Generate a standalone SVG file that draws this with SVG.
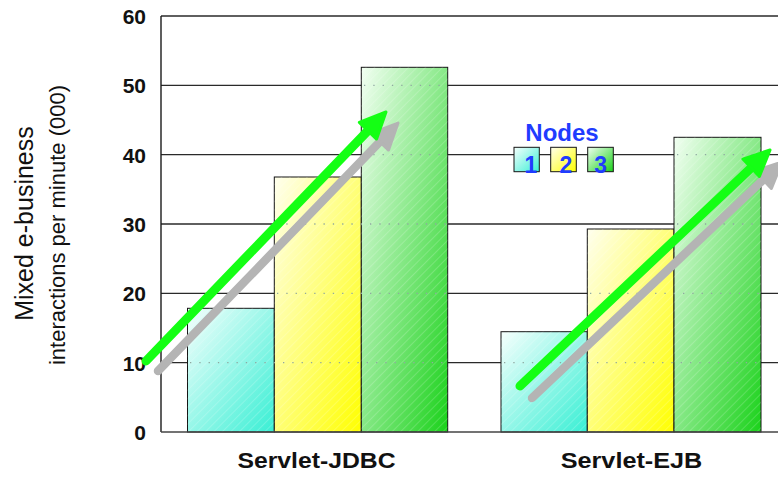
<svg xmlns="http://www.w3.org/2000/svg" width="778" height="478" viewBox="0 0 778 478">
  <style>
    .grid { stroke: #2a2a2a; stroke-width: 1.3; fill: none; }
    .axis { stroke: #1a1a1a; stroke-width: 1.4; fill: none; }
    .dots { stroke: #8fa8a0; stroke-width: 1.3; stroke-dasharray: 1.3 8; fill: none; }
    .bar { stroke: #151515; stroke-width: 1; }
    .tick { font-family: "Liberation Sans", Arial, sans-serif; font-weight: bold; font-size: 21px; fill: #111; text-anchor: end; }
    .cat { font-family: "Liberation Sans", Arial, sans-serif; font-weight: bold; font-size: 22px; fill: #111; text-anchor: middle; }
    .title { font-family: "Liberation Sans", Arial, sans-serif; fill: #111; text-anchor: middle; }
    .legend { font-family: "Liberation Sans", Arial, sans-serif; font-weight: bold; fill: #1f3cff; text-anchor: middle; }
    .arrow-g { stroke: #14ff14; stroke-width: 9; stroke-linecap: round; fill: none; }
    .arrow-s { stroke: #b4b4b4; stroke-width: 8.5; stroke-linecap: round; fill: none; }
  </style>
  <defs>
    <linearGradient id="gCyan" x1="0" y1="0" x2="1" y2="1">
      <stop offset="0" stop-color="#f6fffd"/>
      <stop offset="1" stop-color="#38efd4"/>
    </linearGradient>
    <linearGradient id="gYellow" x1="0" y1="0" x2="1" y2="1">
      <stop offset="0" stop-color="#ffffee"/>
      <stop offset="1" stop-color="#ffff00"/>
    </linearGradient>
    <linearGradient id="gGreen" x1="0" y1="0" x2="1" y2="1">
      <stop offset="0" stop-color="#f2fff2"/>
      <stop offset="1" stop-color="#1ad21a"/>
    </linearGradient>
    <pattern id="hatch" width="6" height="6" patternUnits="userSpaceOnUse" patternTransform="rotate(45)">
      <line x1="0" y1="0" x2="0" y2="6" stroke="#ffffff" stroke-width="1" stroke-opacity="0.35"/>
    </pattern>
    <marker id="headG" viewBox="0 0 30 28" refX="8" refY="14" markerWidth="30" markerHeight="28" markerUnits="userSpaceOnUse" orient="auto">
      <path d="M2,2 L28,14 L2,26 Z" fill="#14ff14" stroke="#14ff14" stroke-width="3" stroke-linejoin="round"/>
    </marker>
    <marker id="headS" viewBox="0 0 30 28" refX="8" refY="14" markerWidth="30" markerHeight="28" markerUnits="userSpaceOnUse" orient="auto">
      <path d="M2,2 L28,14 L2,26 Z" fill="#b4b4b4" stroke="#b4b4b4" stroke-width="3" stroke-linejoin="round"/>
    </marker>
  </defs>

  <rect width="778" height="478" fill="#ffffff"/>

  <!-- horizontal grid -->
  <g id="grid">
    <line class="grid" x1="161" y1="16" x2="778" y2="16"/>
    <line class="grid" x1="161" y1="85.3" x2="778" y2="85.3"/>
    <line class="grid" x1="161" y1="154.7" x2="778" y2="154.7"/>
    <line class="grid" x1="161" y1="224" x2="778" y2="224"/>
    <line class="grid" x1="161" y1="293.3" x2="778" y2="293.3"/>
    <line class="grid" x1="161" y1="362.7" x2="778" y2="362.7"/>
  </g>

  <!-- Servlet-JDBC bars -->
  <g id="jdbc-1">
    <rect class="bar" x="187.5" y="308.3" width="86.8" height="123.7" fill="url(#gCyan)"/>
    <rect x="187.5" y="308.3" width="86.8" height="123.7" fill="url(#hatch)"/>
  </g>
  <g id="jdbc-2">
    <rect class="bar" x="274.3" y="177" width="87" height="255" fill="url(#gYellow)"/>
    <rect x="274.3" y="177" width="87" height="255" fill="url(#hatch)"/>
  </g>
  <g id="jdbc-3">
    <rect class="bar" x="361.3" y="67.3" width="86.4" height="364.7" fill="url(#gGreen)"/>
    <rect x="361.3" y="67.3" width="86.4" height="364.7" fill="url(#hatch)"/>
  </g>

  <!-- Servlet-EJB bars -->
  <g id="ejb-1">
    <rect class="bar" x="501" y="331.7" width="86.3" height="100.3" fill="url(#gCyan)"/>
    <rect x="501" y="331.7" width="86.3" height="100.3" fill="url(#hatch)"/>
  </g>
  <g id="ejb-2">
    <rect class="bar" x="587.3" y="229" width="86.7" height="203" fill="url(#gYellow)"/>
    <rect x="587.3" y="229" width="86.7" height="203" fill="url(#hatch)"/>
  </g>
  <g id="ejb-3">
    <rect class="bar" x="674" y="137.3" width="87" height="294.7" fill="url(#gGreen)"/>
    <rect x="674" y="137.3" width="87" height="294.7" fill="url(#hatch)"/>
  </g>

  <!-- grid continued as dotted lines across bar faces -->
  <g id="grid-dots">
    <line class="dots" x1="190" y1="362.7" x2="447" y2="362.7"/>
    <line class="dots" x1="504" y1="362.7" x2="760" y2="362.7"/>
    <line class="dots" x1="277" y1="293.3" x2="447" y2="293.3"/>
    <line class="dots" x1="590" y1="293.3" x2="760" y2="293.3"/>
    <line class="dots" x1="277" y1="224" x2="447" y2="224"/>
    <line class="dots" x1="677" y1="224" x2="760" y2="224"/>
    <line class="dots" x1="364" y1="154.7" x2="447" y2="154.7"/>
    <line class="dots" x1="677" y1="154.7" x2="760" y2="154.7"/>
    <line class="dots" x1="364" y1="85.3" x2="447" y2="85.3"/>
  </g>

  <!-- axes -->
  <g id="axes">
    <line class="axis" x1="161" y1="16" x2="161" y2="432"/>
    <line x1="161" y1="432" x2="778" y2="432" stroke="#444" stroke-width="1.6"/>
  </g>

  <!-- y tick labels -->
  <g id="y-ticks">
    <text class="tick" x="146" y="24">60</text>
    <text class="tick" x="146" y="93.3">50</text>
    <text class="tick" x="146" y="162.7">40</text>
    <text class="tick" x="146" y="232">30</text>
    <text class="tick" x="146" y="301.3">20</text>
    <text class="tick" x="146" y="370.7">10</text>
    <text class="tick" x="146" y="440">0</text>
  </g>

  <!-- y axis title -->
  <g id="y-title">
    <text class="title" font-size="25" transform="translate(33,223.5) rotate(-90)">Mixed e-business</text>
    <text class="title" font-size="22" transform="translate(65,225) rotate(-90)">interactions per minute (000)</text>
  </g>

  <!-- category labels -->
  <g id="x-labels">
    <text class="cat" x="316.5" y="468.3" textLength="158" lengthAdjust="spacingAndGlyphs">Servlet-JDBC</text>
    <text class="cat" x="631.5" y="468.3" textLength="141.6" lengthAdjust="spacingAndGlyphs">Servlet-EJB</text>
  </g>

  <!-- legend -->
  <g id="legend">
    <text class="legend" x="562" y="140.7" font-size="24">Nodes</text>
    <g id="legend-1">
      <rect class="bar" x="514" y="147.3" width="25.3" height="24.4" fill="url(#gCyan)"/>
      <text class="legend" x="531" y="173.3" font-size="23">1</text>
    </g>
    <g id="legend-2">
      <rect class="bar" x="550.7" y="147.3" width="25.6" height="24.4" fill="url(#gYellow)"/>
      <text class="legend" x="566" y="173.3" font-size="23">2</text>
    </g>
    <g id="legend-3">
      <rect class="bar" x="587.7" y="147.3" width="25.6" height="24.4" fill="url(#gGreen)"/>
      <text class="legend" x="600.7" y="173.3" font-size="23">3</text>
    </g>
  </g>

  <!-- trend arrows -->
  <g id="connectors">
    <line class="arrow-s" x1="158" y1="371" x2="384.1" y2="137.4" marker-end="url(#headS)"/>
    <line class="arrow-g" x1="146" y1="361" x2="372.1" y2="126.4" marker-end="url(#headG)"/>
    <line class="arrow-s" x1="532" y1="398" x2="767.5" y2="175.7" marker-end="url(#headS)"/>
    <line class="arrow-g" x1="520" y1="386" x2="755.5" y2="163.7" marker-end="url(#headG)"/>
  </g>
</svg>
